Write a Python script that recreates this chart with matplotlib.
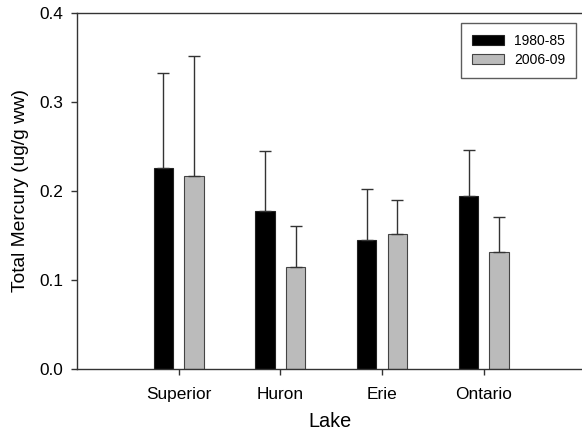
import matplotlib
matplotlib.use("Agg")
import matplotlib.pyplot as plt
import numpy as np

plt.rcParams['font.family'] = ['Liberation Sans', 'DejaVu Sans']

lakes = ["Superior", "Huron", "Erie", "Ontario"]
series_names = ["1980-85", "2006-09"]
mean_1980 = [0.226, 0.177, 0.145, 0.194]
err_1980 = [0.107, 0.068, 0.057, 0.052]
mean_2006 = [0.217, 0.115, 0.152, 0.132]
err_2006 = [0.135, 0.046, 0.038, 0.039]
yticks = [0.0, 0.1, 0.2, 0.3, 0.4]

fig = plt.figure(figsize=(5.82, 4.36), dpi=100)
ax = fig.add_axes([77/582, 1-369/436, 1-77/582, (369-13)/436])

x = np.arange(1, len(lakes) + 1)
w = 0.19
off = 0.15
ekw = dict(ecolor="#333333", elinewidth=1.0, capsize=4.2, capthick=1.0)
ax.bar(x - off, mean_1980, w, color="black", edgecolor="#222222", linewidth=0.8,
       yerr=[np.zeros(4), err_1980], error_kw=ekw, label=series_names[0])
ax.bar(x + off, mean_2006, w, color="#bbbbbb", edgecolor="#444444", linewidth=0.8,
       yerr=[np.zeros(4), err_2006], error_kw=ekw, label=series_names[1])

ax.set_xlim(0, 4.966)
ax.set_ylim(0, 0.4)
ax.set_xticks(x)
ax.set_xticklabels(lakes, fontsize=12.4)
ax.set_yticks(yticks)
ax.set_yticklabels([f"{v:.1f}" for v in yticks], fontsize=12.4)
ax.tick_params(direction="out", length=4, width=1, color="#333333")
ax.tick_params(axis="x", pad=9)
ax.tick_params(axis="y", pad=6)
ax.spines['right'].set_visible(False)
for s in ['left', 'top', 'bottom']:
    ax.spines[s].set_color("#333333")
    ax.spines[s].set_linewidth(1.0)

ax.set_xlabel("Lake", fontsize=14.3, labelpad=7)
ax.set_ylabel("Total Mercury (ug/g ww)", fontsize=13.8, labelpad=7)

leg = ax.legend(loc="upper right", bbox_to_anchor=(576/582, 1-23/436),
                bbox_transform=fig.transFigure, borderaxespad=0,
                fancybox=False, frameon=True, fontsize=10,
                handlelength=2.3, handleheight=0.7, borderpad=0.8,
                labelspacing=0.35, handletextpad=0.7)
leg.get_frame().set_edgecolor("#333333")
leg.get_frame().set_linewidth(1.0)

fig.savefig("out.png", dpi=100)
